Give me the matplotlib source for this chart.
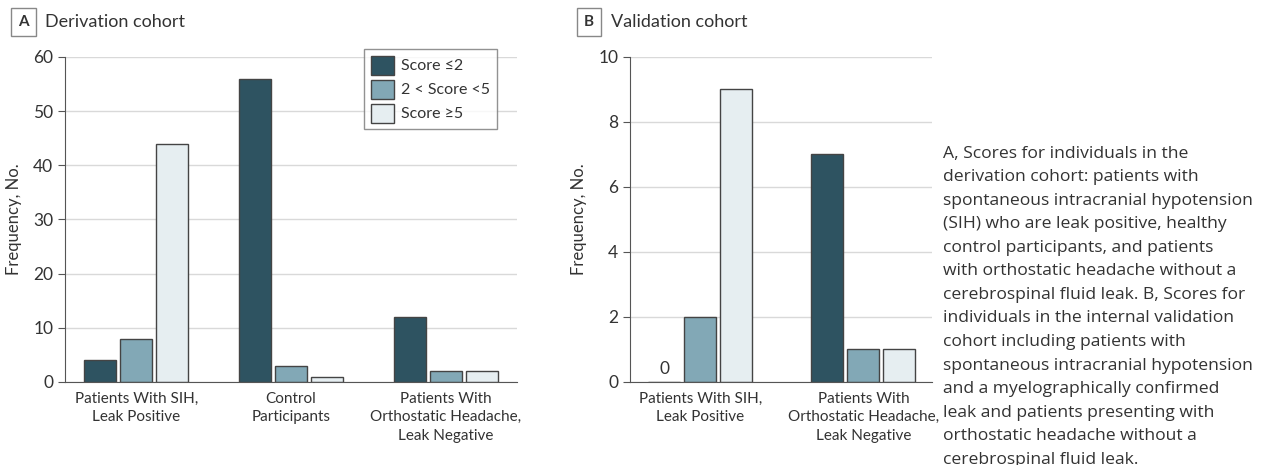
import matplotlib
matplotlib.use('Agg')
import matplotlib.pyplot as plt
from matplotlib.patches import Patch
import numpy as np

plt.rcParams['font.family'] = ['Lato', 'DejaVu Sans']

# data
groups_a = ['Patients With SIH,\nLeak Positive', 'Control\nParticipants',
            'Patients With\nOrthostatic Headache,\nLeak Negative']
groups_b = ['Patients With SIH,\nLeak Positive',
            'Patients With\nOrthostatic Headache,\nLeak Negative']
series = ['Score \u22642', '2 < Score <5', 'Score \u22655']
deriv_low = [4, 56, 12]
deriv_mid = [8, 3, 2]
deriv_high = [44, 1, 2]
valid_low = [0, 7]
valid_mid = [2, 1]
valid_high = [9, 1]

colors = ['#2e5361', '#82a8b6', '#e6eef1']
edge = '#444444'
txt = '#333333'

caption = ("A, Scores for individuals in the\n"
           "derivation cohort: patients with\n"
           "spontaneous intracranial hypotension\n"
           "(SIH) who are leak positive, healthy\n"
           "control participants, and patients\n"
           "with orthostatic headache without a\n"
           "cerebrospinal fluid leak. B, Scores for\n"
           "individuals in the internal validation\n"
           "cohort including patients with\n"
           "spontaneous intracranial hypotension\n"
           "and a myelographically confirmed\n"
           "leak and patients presenting with\n"
           "orthostatic headache without a\n"
           "cerebrospinal fluid leak.")

fig = plt.figure(figsize=(12.65, 4.65), dpi=100)
axA = fig.add_axes([0.0514, 0.1785, 0.3573, 0.699])
axB = fig.add_axes([0.498, 0.1785, 0.2387, 0.699])


def style(ax, ymax, step):
    ax.set_ylim(0, ymax)
    ax.set_yticks(np.arange(0, ymax + 1, step))
    ax.yaxis.grid(True, color='#d9d9d9', lw=1)
    ax.set_axisbelow(True)
    for s in ['top', 'right']:
        ax.spines[s].set_visible(False)
    ax.spines['left'].set_color('#555555')
    ax.spines['bottom'].set_color('#555555')
    ax.tick_params(axis='y', length=5, color='#555555', labelsize=12.5, labelcolor=txt)
    ax.tick_params(axis='x', length=0, labelsize=11, labelcolor=txt, pad=7)
    ax.set_ylabel('Frequency, No.', fontsize=12, color=txt, labelpad=8)


def bars(ax, vals, labels, w, step):
    x = np.arange(len(labels))
    for i, v in enumerate(vals):
        ax.bar(x + (i - 1) * step, v, w, color=colors[i], edgecolor=edge,
               lw=1, label=series[i])
    ax.set_xticks(x)
    ax.set_xticklabels(labels, linespacing=1.4)
    return x


bars(axA, [deriv_low, deriv_mid, deriv_high], groups_a, 0.206, 0.232)
axA.set_xlim(-0.46, 2.46)
style(axA, 60, 10)
leg = axA.legend(handles=[Patch(facecolor=c, edgecolor=edge, label=s) for c, s in zip(colors, series)],
                 loc='upper right', bbox_to_anchor=(0.955, 1.025), fontsize=11.5, frameon=True,
                 fancybox=False, edgecolor='#777777', handlelength=1.45, handleheight=1.45,
                 handletextpad=0.45, labelspacing=0.32, borderpad=0.42, borderaxespad=0)
leg.get_frame().set_linewidth(1)
for t in leg.get_texts():
    t.set_color(txt)

xb = bars(axB, [valid_low, valid_mid, valid_high], groups_b, 0.196, 0.22)
axB.set_xlim(-0.43, 1.42)
style(axB, 10, 2)
for xi, v in zip(xb, valid_low):
    if v == 0:
        axB.text(xi - 0.22, 0.15, '0', ha='center', va='bottom', fontsize=12.5, color=txt)

# panel labels
for xp, lab, title in [(0.0186, 'A', 'Derivation cohort'), (0.4655, 'B', 'Validation cohort')]:
    fig.text(xp, 0.953, lab, fontsize=11, fontweight='bold', color=txt, ha='center', va='center',
             bbox=dict(boxstyle='square,pad=0.45', facecolor='white', edgecolor='#888888', lw=1))
    fig.text(xp + 0.0172, 0.953, title, fontsize=13, color=txt, ha='left', va='center')

fig.text(0.7455, 0.687, caption, fontsize=12.6, color=txt, ha='left', va='top',
         linespacing=1.63, family=['Open Sans', 'DejaVu Sans'])

fig.savefig('out.png', dpi=100)
